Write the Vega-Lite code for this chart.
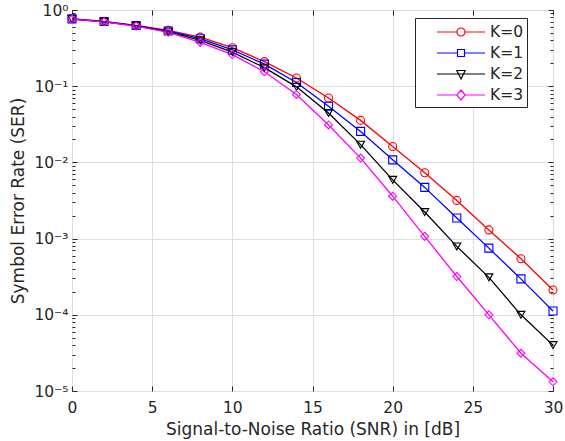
{
  "$schema": "https://vega.github.io/schema/vega-lite/v6.json",
  "width": 481,
  "height": 381,
  "autosize": "none",
  "padding": {"left": 72, "top": 10, "right": 12, "bottom": 50},
  "config": {
    "font": "DejaVu Sans",
    "view": {"stroke": "#262626", "strokeWidth": 1},
    "axis": {"domain": false, "labelFlush": false, "labelColor": "#262626", "titleColor": "#262626", "tickColor": "#262626", "gridColor": "#dedede", "labelFont": "DejaVu Sans", "titleFont": "DejaVu Sans", "titleFontWeight": "normal"},
    "legend": {"title": null, "orient": "none", "legendX": 343, "legendY": 8, "fillColor": "white", "strokeColor": "#262626", "padding": 3, "symbolSize": 400, "symbolStrokeWidth": 1.2, "symbolFillColor": "transparent", "labelFontSize": 15.5, "labelColor": "#262626", "rowPadding": 1}
  },
  "data": {"values": [
    {"snr": 0, "ser": 0.77, "K": "K=0"}, {"snr": 2, "ser": 0.71, "K": "K=0"}, {"snr": 4, "ser": 0.63, "K": "K=0"}, {"snr": 6, "ser": 0.54, "K": "K=0"}, {"snr": 8, "ser": 0.44, "K": "K=0"}, {"snr": 10, "ser": 0.32, "K": "K=0"}, {"snr": 12, "ser": 0.21, "K": "K=0"}, {"snr": 14, "ser": 0.128, "K": "K=0"}, {"snr": 16, "ser": 0.07, "K": "K=0"}, {"snr": 18, "ser": 0.0356, "K": "K=0"}, {"snr": 20, "ser": 0.0162, "K": "K=0"}, {"snr": 22, "ser": 0.0073, "K": "K=0"}, {"snr": 24, "ser": 0.00317, "K": "K=0"}, {"snr": 26, "ser": 0.0013, "K": "K=0"}, {"snr": 28, "ser": 0.000543, "K": "K=0"}, {"snr": 30, "ser": 0.000212, "K": "K=0"},
    {"snr": 0, "ser": 0.765, "K": "K=1"}, {"snr": 2, "ser": 0.705, "K": "K=1"}, {"snr": 4, "ser": 0.625, "K": "K=1"}, {"snr": 6, "ser": 0.53, "K": "K=1"}, {"snr": 8, "ser": 0.42, "K": "K=1"}, {"snr": 10, "ser": 0.3, "K": "K=1"}, {"snr": 12, "ser": 0.195, "K": "K=1"}, {"snr": 14, "ser": 0.112, "K": "K=1"}, {"snr": 16, "ser": 0.0545, "K": "K=1"}, {"snr": 18, "ser": 0.0255, "K": "K=1"}, {"snr": 20, "ser": 0.0108, "K": "K=1"}, {"snr": 22, "ser": 0.0047, "K": "K=1"}, {"snr": 24, "ser": 0.00186, "K": "K=1"}, {"snr": 26, "ser": 0.00075, "K": "K=1"}, {"snr": 28, "ser": 0.000296, "K": "K=1"}, {"snr": 30, "ser": 0.000112, "K": "K=1"},
    {"snr": 0, "ser": 0.76, "K": "K=2"}, {"snr": 2, "ser": 0.7, "K": "K=2"}, {"snr": 4, "ser": 0.62, "K": "K=2"}, {"snr": 6, "ser": 0.52, "K": "K=2"}, {"snr": 8, "ser": 0.4, "K": "K=2"}, {"snr": 10, "ser": 0.28, "K": "K=2"}, {"snr": 12, "ser": 0.175, "K": "K=2"}, {"snr": 14, "ser": 0.098, "K": "K=2"}, {"snr": 16, "ser": 0.0446, "K": "K=2"}, {"snr": 18, "ser": 0.0171, "K": "K=2"}, {"snr": 20, "ser": 0.0059, "K": "K=2"}, {"snr": 22, "ser": 0.00223, "K": "K=2"}, {"snr": 24, "ser": 0.00079, "K": "K=2"}, {"snr": 26, "ser": 0.00031, "K": "K=2"}, {"snr": 28, "ser": 0.0001, "K": "K=2"}, {"snr": 30, "ser": 0.00004, "K": "K=2"},
    {"snr": 0, "ser": 0.76, "K": "K=3"}, {"snr": 2, "ser": 0.7, "K": "K=3"}, {"snr": 4, "ser": 0.615, "K": "K=3"}, {"snr": 6, "ser": 0.51, "K": "K=3"}, {"snr": 8, "ser": 0.375, "K": "K=3"}, {"snr": 10, "ser": 0.26, "K": "K=3"}, {"snr": 12, "ser": 0.155, "K": "K=3"}, {"snr": 14, "ser": 0.078, "K": "K=3"}, {"snr": 16, "ser": 0.031, "K": "K=3"}, {"snr": 18, "ser": 0.0114, "K": "K=3"}, {"snr": 20, "ser": 0.0036, "K": "K=3"}, {"snr": 22, "ser": 0.00107, "K": "K=3"}, {"snr": 24, "ser": 0.000318, "K": "K=3"}, {"snr": 26, "ser": 0.0001, "K": "K=3"}, {"snr": 28, "ser": 0.0000313, "K": "K=3"}, {"snr": 30, "ser": 0.0000132, "K": "K=3"}
  ]},
  "resolve": {"scale": {"x": "independent", "y": "independent"}},
  "layer": [
    {
      "mark": {"type": "line", "strokeWidth": 1.3},
      "encoding": {
        "x": {"field": "snr", "type": "quantitative", "scale": {"domain": [0, 30], "nice": false},
          "axis": {"orient": "bottom", "values": [0, 5, 10, 15, 20, 25, 30], "ticks": false, "grid": true, "labelFontSize": 15.5, "labelPadding": 9, "title": "Signal-to-Noise Ratio (SNR) in [dB]", "titleFontSize": 17, "titlePadding": 6}},
        "y": {"field": "ser", "type": "quantitative", "scale": {"type": "log", "domain": [0.00001, 1], "nice": false},
          "axis": {"orient": "left", "values": [0.00001, 0.0001, 0.001, 0.01, 0.1, 1], "ticks": false, "grid": true, "labelFontSize": 15.5, "labelPadding": 4, "labelExpr": "['10⁰','10⁻¹','10⁻²','10⁻³','10⁻⁴','10⁻⁵'][round(-log(datum.value)/LN10)]", "title": "Symbol Error Rate (SER)", "titleFontSize": 17, "titlePadding": 6}},
        "color": {"field": "K", "type": "nominal", "scale": {"range": ["#ff0000", "#0000ff", "#000000", "#ff00ff"]},
          "legend": {"labelExpr": "datum.label + '\u00a0\u00a0\u00a0\u00a0\u00a0'",
            "encode": {
              "symbols": {"update": {"x": {"value": 43}, "shape": {"signal": "datum.value == 'K=0' ? 'M-2.4,0H-0.4M0.4,0H2.4M-0.4,0A0.4,0.4,0,1,1,0.4,0A0.4,0.4,0,1,1,-0.4,0Z' : datum.value == 'K=1' ? 'M-2.4,0H-0.35M0.35,0H2.4M-0.35,-0.35H0.35V0.35H-0.35Z' : datum.value == 'K=2' ? 'M-2.4,0H2.4M-0.42,-0.35H0.42L0,0.5Z' : 'M-2.4,0H-0.42M0.42,0H2.4M0,-0.5L0.42,0L0,0.5L-0.42,0Z'"}}},
              "labels": {"update": {"x": {"value": 72}}}
            }}},
        "detail": {"field": "K"}
      }
    },
    {
      "mark": {"type": "point", "filled": false, "size": 64, "strokeWidth": 1.1, "opacity": 1},
      "encoding": {
        "x": {"field": "snr", "type": "quantitative", "scale": {"domain": [0, 30], "nice": false},
          "axis": {"orient": "bottom", "values": [0, 5, 10, 15, 20, 25, 30], "labels": false, "grid": false, "tickSize": -5, "title": null}},
        "y": {"field": "ser", "type": "quantitative", "scale": {"type": "log", "domain": [0.00001, 1], "nice": false},
          "axis": {"orient": "left", "values": [0.00001, 0.0001, 0.001, 0.01, 0.1, 1], "labels": false, "grid": false, "tickSize": -5, "title": null}},
        "color": {"field": "K", "type": "nominal", "scale": {"range": ["#ff0000", "#0000ff", "#000000", "#ff00ff"]}},
        "shape": {"field": "K", "type": "nominal", "scale": {"range": ["circle", "square", "triangle-down", "diamond"]}, "legend": null}
      }
    },
    {
      "mark": {"type": "point", "opacity": 0},
      "encoding": {
        "x": {"field": "snr", "type": "quantitative", "scale": {"domain": [0, 30], "nice": false},
          "axis": {"orient": "top", "values": [0, 5, 10, 15, 20, 25, 30], "labels": false, "grid": false, "tickSize": -5, "title": null}},
        "y": {"field": "ser", "type": "quantitative", "scale": {"type": "log", "domain": [0.00001, 1], "nice": false},
          "axis": {"orient": "right", "values": [0.00001, 0.0001, 0.001, 0.01, 0.1, 1], "labels": false, "grid": false, "tickSize": -5, "title": null}}
      }
    },
    {
      "mark": {"type": "point", "opacity": 0},
      "encoding": {
        "x": {"field": "snr", "type": "quantitative", "scale": {"domain": [0, 30], "nice": false}, "axis": null},
        "y": {"field": "ser", "type": "quantitative", "scale": {"type": "log", "domain": [0.00001, 1], "nice": false},
          "axis": {"orient": "left", "values": [0.00002, 0.00003, 0.00004, 0.00005, 0.00006, 0.00007, 0.00008, 0.00009, 0.0002, 0.0003, 0.0004, 0.0005, 0.0006, 0.0007, 0.0008, 0.0009, 0.002, 0.003, 0.004, 0.005, 0.006, 0.007, 0.008, 0.009, 0.02, 0.03, 0.04, 0.05, 0.06, 0.07, 0.08, 0.09, 0.2, 0.3, 0.4, 0.5, 0.6, 0.7, 0.8, 0.9], "labels": false, "grid": false, "tickSize": -3, "title": null}}
      }
    },
    {
      "mark": {"type": "point", "opacity": 0},
      "encoding": {
        "x": {"field": "snr", "type": "quantitative", "scale": {"domain": [0, 30], "nice": false}, "axis": null},
        "y": {"field": "ser", "type": "quantitative", "scale": {"type": "log", "domain": [0.00001, 1], "nice": false},
          "axis": {"orient": "right", "values": [0.00002, 0.00003, 0.00004, 0.00005, 0.00006, 0.00007, 0.00008, 0.00009, 0.0002, 0.0003, 0.0004, 0.0005, 0.0006, 0.0007, 0.0008, 0.0009, 0.002, 0.003, 0.004, 0.005, 0.006, 0.007, 0.008, 0.009, 0.02, 0.03, 0.04, 0.05, 0.06, 0.07, 0.08, 0.09, 0.2, 0.3, 0.4, 0.5, 0.6, 0.7, 0.8, 0.9], "labels": false, "grid": false, "tickSize": -3, "title": null}}
      }
    }
  ]
}
